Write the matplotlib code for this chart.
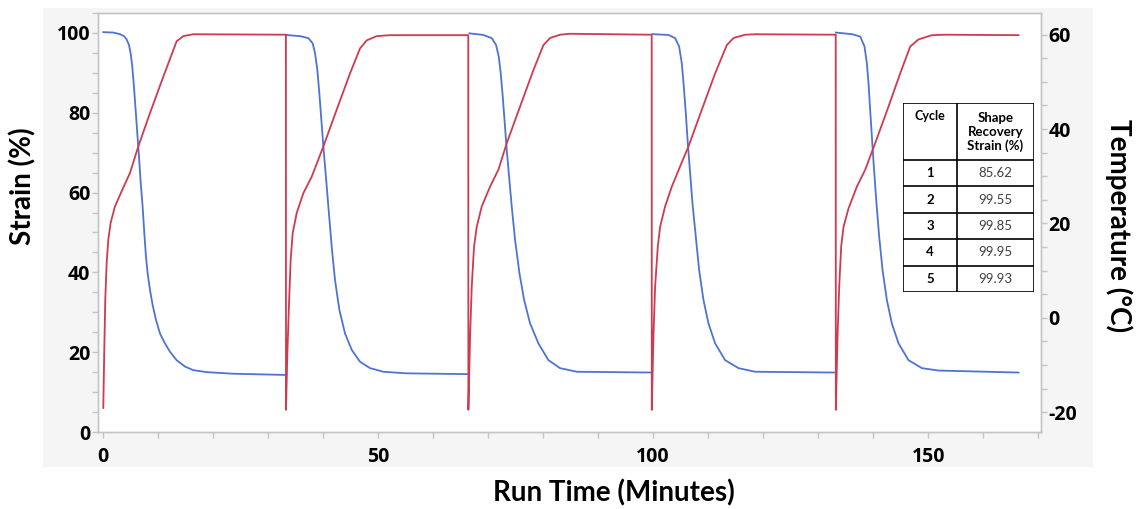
import matplotlib
matplotlib.use("Agg")
import matplotlib.pyplot as plt
from matplotlib.patches import Rectangle
from matplotlib.ticker import MultipleLocator

# Temperature (°C), one continuous trace over the five cycles
temp_time = [0.06, 0.24, 0.42, 0.67, 0.97, 1.39, 2.18, 3.39, 4.91, 6.42, 8.55, 10.97, 13.39, 14.61, 16.42, 33.25,
             33.27, 33.52, 33.82, 34.12, 34.48, 35.21, 36.42, 37.94, 40.06, 42.48, 44.91, 46.73, 47.94, 49.76, 52.18, 66.4,
             66.42, 66.73, 67.03, 67.45, 67.94, 68.85, 70.36, 71.88, 73.39, 75.82, 78.24, 80.06, 81.27, 83.09, 84.91, 99.74,
             99.76, 100.06, 100.36, 100.85, 101.27, 102.18, 103.39, 104.91, 106.42, 108.85, 111.27, 113.39, 114.61, 116.73, 118.55, 133.19,
             133.21, 133.52, 133.82, 134.18, 134.61, 135.52, 137.03, 138.55, 140.36, 142.79, 144.91, 146.73, 148.24, 150.67, 153.09, 166.42]
temp_vals = [-19.1, -6.8, 3.8, 11.6, 16.5, 20.1, 23.6, 26.8, 30.7, 36.3, 43.4, 51.1, 58.6, 59.7, 60.1, 60.0,
             -19.5, -7.5, 3.1, 12.3, 17.9, 22.2, 26.4, 29.9, 36.3, 44.1, 51.8, 57.1, 58.8, 59.7, 59.9, 59.9,
             -19.5, -3.9, 6.6, 15.1, 19.3, 23.6, 27.8, 31.4, 37.0, 44.8, 52.5, 57.8, 59.3, 60.0, 60.2, 60.0,
             -19.5, -3.9, 6.6, 15.1, 19.3, 23.6, 27.8, 32.1, 36.3, 44.1, 51.8, 57.8, 59.3, 60.0, 60.1, 60.0,
             -19.5, -3.9, 6.6, 15.1, 19.3, 23.2, 27.8, 31.4, 37.0, 44.8, 51.8, 57.5, 59.0, 59.9, 60.0, 59.9]

# Strain (%), one list per cycle
strain_time = [
    [0.06, 1.88, 3.09, 3.82, 4.30, 4.73, 5.03, 5.33, 5.64, 5.94, 6.24, 6.55, 6.85, 7.21, 7.52, 7.82,
     8.12, 8.55, 9.03, 9.64, 10.36, 11.27, 12.18, 13.39, 14.91, 16.42, 18.85, 23.7, 33.25],
    [33.27, 35.82, 37.33, 38.12, 38.55, 38.97, 39.33, 39.70, 40.06, 40.48, 40.97, 41.58, 42.18, 42.97,
     44.0, 45.21, 46.73, 48.55, 50.97, 55.21, 66.4],
    [66.61, 69.15, 70.67, 71.45, 71.94, 72.30, 72.67, 73.03, 73.39, 73.82, 74.30, 74.91, 75.70, 76.55,
     77.64, 79.15, 80.97, 83.09, 86.12, 99.74],
    [99.88, 102.79, 104.0, 104.73, 105.21, 105.58, 105.94, 106.30, 106.73, 107.15, 107.76, 108.36, 109.15,
     110.06, 111.27, 113.09, 115.52, 118.55, 133.19],
    [133.21, 136.12, 137.64, 138.42, 138.85, 139.15, 139.45, 139.76, 140.12, 140.55, 141.09, 141.70, 142.48,
     143.39, 144.61, 146.42, 148.85, 151.88, 166.42],
]
strain_vals = [
    [100.2, 100.1, 99.7, 99.2, 98.4, 97.0, 94.9, 91.6, 86.5, 80.7, 74.9, 69.0, 62.7, 56.5, 49.8, 43.9,
     39.8, 35.6, 31.8, 28.1, 24.7, 22.2, 20.1, 18.0, 16.4, 15.5, 15.0, 14.6, 14.3],
    [99.5, 99.2, 98.7, 97.4, 94.9, 90.7, 84.9, 78.2, 71.5, 64.8, 56.5, 46.4, 38.1, 30.6,
     24.7, 20.6, 17.6, 16.0, 15.1, 14.7, 14.5],
    [99.9, 99.5, 98.7, 97.0, 94.1, 89.9, 84.0, 77.4, 70.7, 64.0, 56.5, 48.1, 39.8, 33.1,
     27.2, 22.2, 18.0, 16.0, 15.1, 14.9],
    [99.7, 99.5, 98.7, 96.6, 92.4, 86.5, 79.9, 72.4, 64.8, 57.3, 48.9, 40.6, 33.1,
     27.2, 22.2, 18.0, 16.0, 15.1, 14.9],
    [100.1, 99.7, 99.1, 96.6, 92.4, 87.4, 80.7, 74.0, 66.5, 58.1, 48.9, 40.6, 33.1,
     27.2, 22.2, 18.0, 16.0, 15.4, 14.9],
]

# table contents
cycles = ["1", "2", "3", "4", "5"]
recovery = ["85.62", "99.55", "99.85", "99.95", "99.93"]

W, H = 1137, 509
BLUE = "#4d73d6"
RED = "#cf3a4f"
SPINE = "#c4c4c4"

plt.rcParams["font.family"] = ["Open Sans", "DejaVu Sans"]
plt.rcParams["axes.unicode_minus"] = False

fig = plt.figure(figsize=(W / 100, H / 100), dpi=100)

# light grey panel behind the plot
fig.patches.append(Rectangle((43 / W, 1 - 467 / H), (1093 - 43) / W, (467 - 8) / H,
                             transform=fig.transFigure, facecolor="#f5f5f5",
                             edgecolor="none", zorder=-5))

ax = fig.add_axes([98 / W, 1 - 432 / H, (1041 - 98) / W, (432 - 13) / H])
ax.set_facecolor("white")
ax2 = ax.twinx()

for t, s in zip(strain_time, strain_vals):
    ax.plot(t, s, color=BLUE, lw=1.3, solid_joinstyle="round")
ax2.plot(temp_time, temp_vals, color=RED, lw=1.3, solid_joinstyle="round")

ax.set_xlim(-0.9, 170.5)
ax.set_ylim(0, 105)
ax2.set_ylim(-24.2, 64.6)

ax.xaxis.set_major_locator(MultipleLocator(50))
ax.xaxis.set_minor_locator(MultipleLocator(10))
ax.yaxis.set_major_locator(MultipleLocator(20))
ax.yaxis.set_minor_locator(MultipleLocator(5))
ax2.yaxis.set_major_locator(MultipleLocator(20))
ax2.yaxis.set_minor_locator(MultipleLocator(5))

for a in (ax, ax2):
    for sp in a.spines.values():
        sp.set_color(SPINE)
        sp.set_linewidth(1)
    a.tick_params(which="both", color=SPINE, width=1, labelcolor="black")
    a.tick_params(which="major", length=4, labelsize=14)
    a.tick_params(which="minor", length=4)
ax.tick_params(axis="x", pad=7)
ax.tick_params(axis="y", pad=1.5)
ax2.tick_params(axis="y", pad=1.5)

for lab in ax.get_xticklabels() + ax.get_yticklabels() + ax2.get_yticklabels():
    lab.set_fontweight("bold")

label_font = dict(family=["Lato", "DejaVu Sans"], fontweight="bold", fontsize=20)
fig.text(23 / W, 1 - 186 / H, "Strain (%)", rotation=90, ha="center", va="center", **label_font)
fig.text(1119 / W, 1 - 226 / H, "Temperature (°C)", rotation=270, ha="center", va="center", **label_font)
fig.text(614 / W, 1 - 493 / H, "Run Time (Minutes)", ha="center", va="center", **label_font)

# shape recovery table drawn in its own pixel-sized axes
tw, th = 131, 189
tab = fig.add_axes([903 / W, 1 - 292 / H, tw / W, th / H])
tab.set_xlim(0, tw)
tab.set_ylim(th, 0)
tab.axis("off")
tab.add_patch(Rectangle((0, 0), tw, th, facecolor="white", edgecolor="black", lw=1.2))
col = 54
head = 57
row_h = (th - head) / len(cycles)
tab.plot([col, col], [0, th], color="black", lw=1.2)
for i in range(len(cycles)):
    y = head + i * row_h
    tab.plot([0, tw], [y, y], color="black", lw=1.2)

tfont = ["Lato", "DejaVu Sans"]
tab.text(col / 2, 7, "Cycle", ha="center", va="top", fontsize=9, fontweight="bold", family=tfont)
tab.text((col + tw) / 2, 29, "Shape\nRecovery\nStrain (%)", ha="center", va="center",
         fontsize=9.5, fontweight="bold", family=tfont, linespacing=1.2)
for i, (c, r) in enumerate(zip(cycles, recovery)):
    y = head + (i + 0.5) * row_h
    tab.text(col / 2, y, c, ha="center", va="center", fontsize=9.5, fontweight="bold", family=tfont)
    tab.text((col + tw) / 2, y, r, ha="center", va="center", fontsize=9.5, color="#404040", family=tfont)

fig.savefig("out.png", dpi=100)
